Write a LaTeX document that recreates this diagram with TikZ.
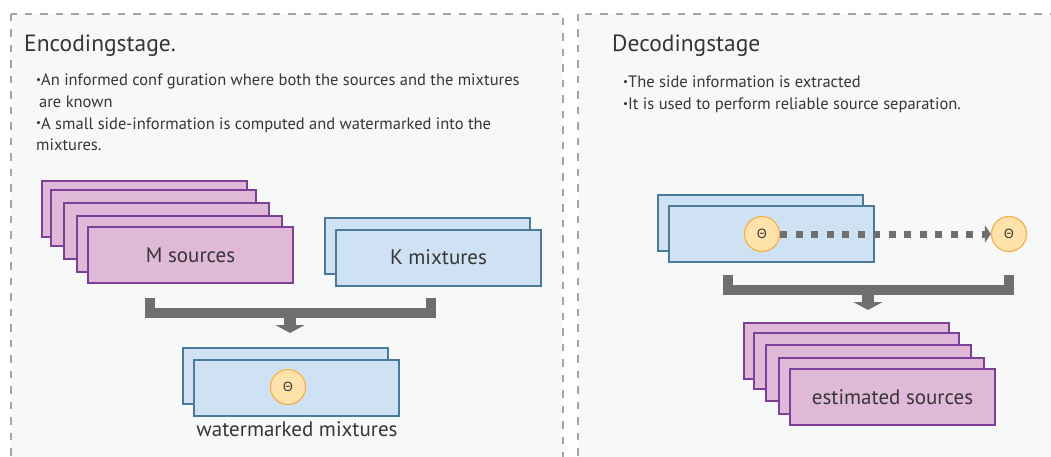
\documentclass[tikz,border=0pt]{standalone}
\usepackage{fontspec}
\setmainfont{PT Sans}
\newfontfamily\grk{Noto Sans}
\usetikzlibrary{arrows.meta,calc}
\definecolor{panelfill}{HTML}{F7F8F8}
\definecolor{dashgray}{HTML}{A5A5A5}
\definecolor{pinkfill}{HTML}{E0B9D9}
\definecolor{purpline}{HTML}{7D3F98}
\definecolor{bluefill}{HTML}{CFE2F3}
\definecolor{blueline}{HTML}{4B7A9A}
\definecolor{circfill}{HTML}{FFE3AA}
\definecolor{circline}{HTML}{F4B04E}
\definecolor{brgray}{HTML}{6F6F6F}
\definecolor{txt}{HTML}{363636}
\newcommand{\bul}{{\raisebox{0.3ex}{\fontsize{11}{11}\selectfont\symbol{"2022}}}}
\begin{document}
\begin{tikzpicture}[x=1pt,y=-1pt,
  panel/.style={draw=dashgray, fill=panelfill, line width=2pt, dash pattern=on 7.5pt off 8pt},
  titletext/.style={anchor=base west, inner sep=0pt, text=txt, font=\fontsize{23.5}{26}\selectfont},
  bodytext/.style={anchor=north west, inner sep=0pt, text=txt, align=left, font=\fontsize{16.5}{21.6}\selectfont},
  srcbox/.style={draw=purpline, fill=pinkfill, line width=2pt, minimum width=205pt, minimum height=56pt, inner sep=0pt, text=txt, font=\fontsize{21}{24}\selectfont},
  mixbox/.style={draw=blueline, fill=bluefill, line width=2pt, minimum width=205pt, minimum height=56pt, inner sep=0pt, text=txt, font=\fontsize{21}{24}\selectfont},
  thetanode/.style={circle, draw=circline, fill=circfill, line width=1.2pt, minimum size=35pt, inner sep=0pt, text=txt, font=\grk\fontsize{13}{13}\selectfont},
  bracket/.style={draw=brgray, line width=10pt, line join=miter},
  downarrow/.style={draw=brgray, line width=12pt, -{Triangle[length=8pt,width=29pt]}},
  dotarrow/.style={draw=brgray, line width=7pt, dash pattern=on 7pt off 8.5pt, -{Triangle[length=6pt,width=17pt]}},
  lbl/.style={inner sep=0pt, text=txt, font=\fontsize{21}{24}\selectfont}
]
\useasboundingbox (0,0) rectangle (1051,457);
% panels
\path[panel] (11,14) rectangle (563,480);
\path[panel] (578,14) rectangle (1080,480);

% titles and texts
\node[titletext] (enctitle) at (24,52) {Encodingstage.};
\node[titletext] (dectitle) at (612,52) {Decodingstage};
\node[bodytext] (encbody) at (36,74) {\bul An informed conf guration where both the sources and the mixtures\\
\hspace{3pt}are known\\
\bul A small side-information is computed and watermarked into the\\
mixtures.};
\node[bodytext] (decbody) at (623,76) {\bul The side information is extracted\\
\bul It is used to perform reliable source separation.};

% M sources stack
\node[srcbox] (m1) at (144.5,209) {};
\node[srcbox] (m2) at (153.5,218) {};
\node[srcbox] (m3) at (166.5,231) {};
\node[srcbox] (m4) at (179.5,244) {};
\node[srcbox] (m5) at (190.5,255) {M sources};

% K mixtures stack
\node[mixbox] (k1) at (427,245.5) {};
\node[mixbox] (k2) at (438.5,257.5) {K mixtures};

% bracket encoding
\coordinate (bl) at (150,298);
\coordinate (br) at (431,298);
\coordinate (bm) at (290,313);
\coordinate (atip) at (290,333);
\draw[bracket] (bl) |- (bm) -| (br);
\draw[downarrow] ($(bm)+(0,5)$) -- (atip);

% watermarked mixtures
\node[mixbox] (w1) at (285.5,376) {};
\node[mixbox] (w2) at (296.5,387.5) {};
\node[thetanode] (wt) at (288,387) {Θ};
\node[lbl] (wlbl) at (297,429) {watermarked mixtures};

% decoding stack
\node[mixbox] (d1) at (760.5,223) {};
\node[mixbox] (d2) at (771.5,234) {};
\node[thetanode] (dt1) at (762,234) {Θ};
\node[thetanode] (dt2) at (1009,234) {Θ};
\draw[dotarrow] (dt1) -- (dt2);

% bracket decoding
\coordinate (dbl) at (728,275);
\coordinate (dbr) at (1009,275);
\coordinate (dbm) at (868,290);
\coordinate (dtip) at (868,310);
\draw[bracket] (dbl) |- (dbm) -| (dbr);
\draw[downarrow] ($(dbm)+(0,5)$) -- (dtip);

% estimated sources
\node[srcbox] (e1) at (846.5,351) {};
\node[srcbox] (e2) at (856.5,361) {};
\node[srcbox] (e3) at (868.5,373) {};
\node[srcbox] (e4) at (881.5,386) {};
\node[srcbox] (e5) at (892.5,397) {estimated sources};
\end{tikzpicture}
\end{document}
